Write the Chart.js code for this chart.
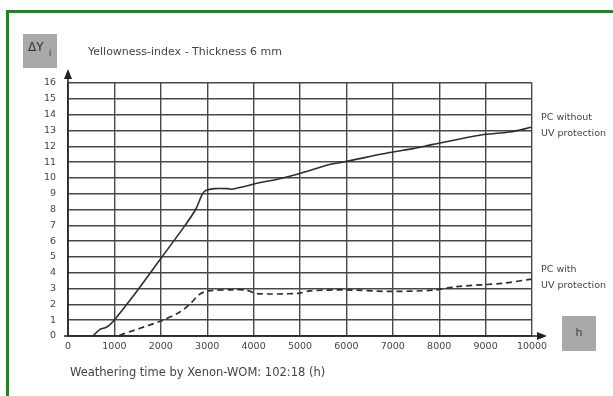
<!DOCTYPE html>
<html>
<head>
<meta charset="utf-8">
<script src="https://cdn.jsdelivr.net/npm/chart.js@4.4.1/dist/chart.umd.min.js"></script>
<style>
    html, body { margin: 0; padding: 0; background: #fff; }
    #wrap { position: relative; width: 613px; height: 396px; overflow: hidden; }
    #frame {
        position: absolute; left: 6px; top: 10px; width: 640px; height: 420px;
        border-left: 3px solid #1b8a1b; border-top: 3px solid #1b8a1b;
        pointer-events: none;
    }
</style>
</head>
<body>
<div id="wrap">
    <canvas id="yellownessChart" width="613" height="396"></canvas>
    <div id="frame"></div>
</div>
<script>
// ===========================
// Data
// ===========================

const xTicks = [0, 1000, 2000, 3000, 4000, 5000, 6000, 7000, 8000, 9000, 10000];
const yTicks = [0, 1, 2, 3, 4, 5, 6, 7, 8, 9, 10, 11, 12, 13, 14, 15, 16];

const hoursNoUv = [540, 690, 830, 980, 1500, 2000, 2500, 2750, 2900, 2970, 3150, 3450, 3520, 4170, 4490, 4960, 5640, 5930, 6930, 7440, 7870, 8870, 9520, 9990];
const valuesNoUv = [0, 0.42, 0.55, 0.95, 2.9, 4.9, 6.9, 8.0, 9.0, 9.2, 9.32, 9.32, 9.28, 9.72, 9.9, 10.25, 10.85, 11.0, 11.6, 11.85, 12.12, 12.7, 12.9, 13.2];

const hoursUv = [1110, 2000, 2400, 2620, 2840, 3020, 3550, 3850, 4060, 4960, 5210, 5930, 6930, 7870, 8370, 9380, 9990];
const valuesUv = [0.05, 0.95, 1.5, 2.0, 2.65, 2.85, 2.92, 2.9, 2.68, 2.7, 2.85, 2.92, 2.82, 2.9, 3.12, 3.34, 3.6];

const seriesLabels = [['PC without', 'UV protection'], ['PC with', 'UV protection']];

const titleText = 'Yellowness-index - Thickness 6 mm';
const xTitleText = 'Weathering time by Xenon-WOM: 102:18 (h)';

// ===========================
// Helpers
// ===========================

const LINE = '#2e2e2e';
const GRID = '#484848';
const TEXT = '#444';
const FONT = '"DejaVu Sans", sans-serif';

function toPoints(xs, ys) {
    return xs.map((x, i) => ({ x: x, y: ys[i] }));
}

// custom text, arrows and grey boxes
const decorations = {
    id: 'decorations',
    afterDraw(chart) {
        const ctx = chart.ctx;
        const area = chart.chartArea;
        const xs = chart.scales.x;
        const ys = chart.scales.y;
        ctx.save();

        // axis extensions with arrowheads
        ctx.strokeStyle = '#222';
        ctx.fillStyle = '#222';
        ctx.lineWidth = 1.5;
        ctx.beginPath();
        ctx.moveTo(area.left, area.bottom);
        ctx.lineTo(area.left, area.top - 8);
        ctx.moveTo(area.left - 4, area.bottom);
        ctx.lineTo(area.right + 8, area.bottom);
        ctx.stroke();
        ctx.beginPath();
        ctx.moveTo(area.left, area.top - 14);
        ctx.lineTo(area.left - 4, area.top - 4);
        ctx.lineTo(area.left + 4, area.top - 4);
        ctx.closePath();
        ctx.fill();
        ctx.beginPath();
        ctx.moveTo(area.right + 15, area.bottom);
        ctx.lineTo(area.right + 5, area.bottom - 4);
        ctx.lineTo(area.right + 5, area.bottom + 4);
        ctx.closePath();
        ctx.fill();

        // grey unit boxes
        ctx.fillStyle = '#a9a9a9';
        ctx.fillRect(23, 34, 34, 34);
        ctx.fillRect(562, 316, 34, 35);

        ctx.fillStyle = '#2e2e2e';
        ctx.textBaseline = 'middle';
        ctx.textAlign = 'left';
        ctx.font = '12px ' + FONT;
        ctx.fillText('\u0394Y', 28, 48);
        ctx.font = '8px ' + FONT;
        ctx.fillText('i', 49, 54);
        ctx.textAlign = 'center';
        ctx.font = '11px ' + FONT;
        ctx.fillStyle = '#3a3a3a';
        ctx.fillText('h', 579, 333);

        // titles
        ctx.fillStyle = TEXT;
        ctx.textAlign = 'left';
        ctx.font = '11px ' + FONT;
        ctx.fillText(titleText, 88, 52);
        ctx.font = '11.5px ' + FONT;
        ctx.fillText(xTitleText, 70, 373);

        // series labels next to the line ends
        ctx.font = '9.5px ' + FONT;
        chart.data.datasets.forEach((ds, i) => {
            const last = ds.data[ds.data.length - 1];
            const yEnd = ys.getPixelForValue(last.y);
            const xLab = xs.getPixelForValue(xs.max) + 9;
            ctx.fillText(seriesLabels[i][0], xLab, yEnd - 10);
            ctx.fillText(seriesLabels[i][1], xLab, yEnd + 6);
        });

        ctx.restore();
    }
};

// ===========================
// Chart
// ===========================

const ctx = document.getElementById('yellownessChart');

new Chart(ctx, {
    type: 'line',
    data: {
        datasets: [{
            label: seriesLabels[0].join(' '),
            data: toPoints(hoursNoUv, valuesNoUv),
            borderColor: LINE,
            borderWidth: 1.6,
            pointRadius: 0,
            tension: 0.3
        }, {
            label: seriesLabels[1].join(' '),
            data: toPoints(hoursUv, valuesUv),
            borderColor: LINE,
            borderWidth: 1.7,
            borderDash: [6, 4],
            pointRadius: 0,
            tension: 0.3
        }]
    },
    options: {
        responsive: false,
        animation: false,
        devicePixelRatio: 1,
        layout: {
            padding: { left: 0, top: 83, right: 81, bottom: 0 }
        },
        plugins: {
            legend: { display: false },
            tooltip: { enabled: false },
            title: { display: false }
        },
        scales: {
            x: {
                type: 'linear',
                min: 0,
                max: 10000,
                afterBuildTicks: (scale) => { scale.ticks = xTicks.map(v => ({ value: v })); },
                afterFit: (scale) => { scale.height = 60; },
                ticks: {
                    color: TEXT,
                    font: { family: FONT, size: 9.5 },
                    padding: 5,
                    maxRotation: 0,
                    autoSkip: false,
                    callback: (value) => String(value)
                },
                grid: { color: GRID, lineWidth: 1.4, tickLength: 0 },
                border: { color: GRID, width: 1.4 }
            },
            y: {
                min: 0,
                max: 16,
                afterBuildTicks: (scale) => { scale.ticks = yTicks.map(v => ({ value: v })); },
                afterFit: (scale) => { scale.width = 68; },
                ticks: {
                    color: TEXT,
                    font: { family: FONT, size: 9.5 },
                    padding: 12,
                    autoSkip: false,
                    callback: (value) => String(value)
                },
                grid: { color: GRID, lineWidth: 1.4, tickLength: 0 },
                border: { color: GRID, width: 1.4 }
            }
        }
    },
    plugins: [decorations]
});
</script>
</body>
</html>
